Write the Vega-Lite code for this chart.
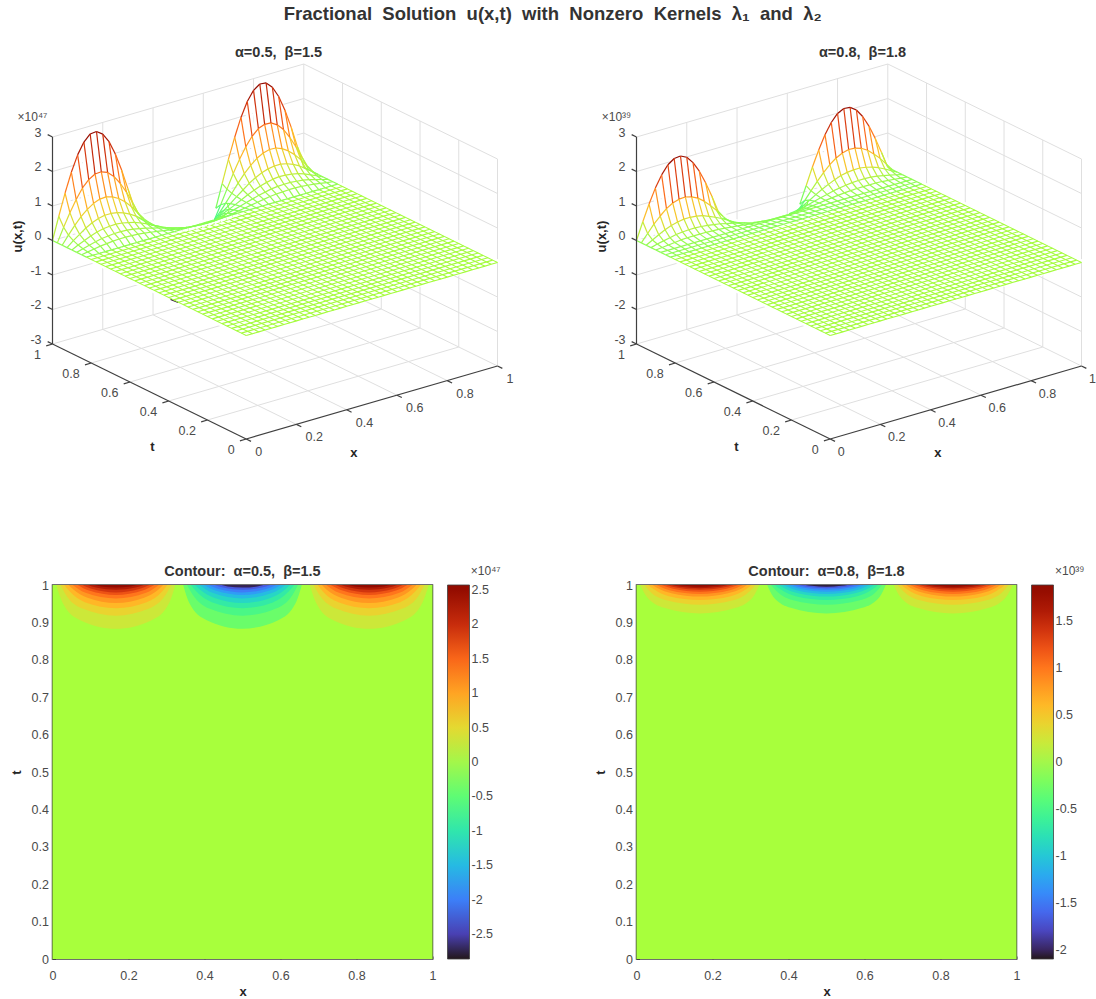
{"$schema":"https://vega.github.io/schema/vega-lite/v6.json","padding":{"left":8.5,"top":5,"right":0,"bottom":0},"background":"white","config":{"font":"Liberation Sans","view":{"stroke":null},"title":{"font":"Liberation Sans","fontSize":14.5,"fontWeight":"bold","color":"#333333","offset":1},"axis":{"labelFont":"Liberation Sans","labelFontSize":12.5,"labelColor":"#4a4a4a","titleFont":"Liberation Sans","titleFontSize":13,"titleFontWeight":"bold","titleColor":"#262626","domain":false,"grid":false,"tickColor":"#404040","tickSize":-3,"labelPadding":7},"legend":{"labelFont":"Liberation Sans","labelFontSize":12.5,"labelColor":"#4a4a4a","labelOffset":5}},
"title":{"text":"Fractional\u00a0\u00a0Solution\u00a0\u00a0u(x,t)\u00a0\u00a0with\u00a0\u00a0Nonzero\u00a0\u00a0Kernels\u00a0\u00a0λ₁\u00a0\u00a0and\u00a0\u00a0λ₂","fontSize":18.5,"color":"#333333","anchor":"middle","offset":21},
"datasets":{
"grid":[{"x":0.2,"t":0,"u":-3,"x2":0.2,"t2":1,"u2":-3},{"x":0.4,"t":0,"u":-3,"x2":0.4,"t2":1,"u2":-3},{"x":0.6,"t":0,"u":-3,"x2":0.6,"t2":1,"u2":-3},{"x":0.8,"t":0,"u":-3,"x2":0.8,"t2":1,"u2":-3},{"x":1,"t":0,"u":-3,"x2":1,"t2":1,"u2":-3},{"x":0,"t":0.2,"u":-3,"x2":1,"t2":0.2,"u2":-3},{"x":0,"t":0.4,"u":-3,"x2":1,"t2":0.4,"u2":-3},{"x":0,"t":0.6,"u":-3,"x2":1,"t2":0.6,"u2":-3},{"x":0,"t":0.8,"u":-3,"x2":1,"t2":0.8,"u2":-3},{"x":0,"t":1,"u":-3,"x2":1,"t2":1,"u2":-3},{"x":0.2,"t":1,"u":-3,"x2":0.2,"t2":1,"u2":3},{"x":0.4,"t":1,"u":-3,"x2":0.4,"t2":1,"u2":3},{"x":0.6,"t":1,"u":-3,"x2":0.6,"t2":1,"u2":3},{"x":0.8,"t":1,"u":-3,"x2":0.8,"t2":1,"u2":3},{"x":1,"t":1,"u":-3,"x2":1,"t2":1,"u2":3},{"x":0,"t":1,"u":-2,"x2":1,"t2":1,"u2":-2},{"x":0,"t":1,"u":-1,"x2":1,"t2":1,"u2":-1},{"x":0,"t":1,"u":0,"x2":1,"t2":1,"u2":0},{"x":0,"t":1,"u":1,"x2":1,"t2":1,"u2":1},{"x":0,"t":1,"u":2,"x2":1,"t2":1,"u2":2},{"x":0,"t":1,"u":3,"x2":1,"t2":1,"u2":3},{"x":1,"t":0,"u":-3,"x2":1,"t2":0,"u2":3},{"x":1,"t":0.2,"u":-3,"x2":1,"t2":0.2,"u2":3},{"x":1,"t":0.4,"u":-3,"x2":1,"t2":0.4,"u2":3},{"x":1,"t":0.6,"u":-3,"x2":1,"t2":0.6,"u2":3},{"x":1,"t":0.8,"u":-3,"x2":1,"t2":0.8,"u2":3},{"x":1,"t":0,"u":-2,"x2":1,"t2":1,"u2":-2},{"x":1,"t":0,"u":-1,"x2":1,"t2":1,"u2":-1},{"x":1,"t":0,"u":0,"x2":1,"t2":1,"u2":0},{"x":1,"t":0,"u":1,"x2":1,"t2":1,"u2":1},{"x":1,"t":0,"u":2,"x2":1,"t2":1,"u2":2},{"x":1,"t":0,"u":3,"x2":1,"t2":1,"u2":3}],
"axes":[{"x":0,"t":0,"u":-3,"x2":1,"t2":0,"u2":-3},{"x":0,"t":0,"u":-3,"x2":0,"t2":1,"u2":-3},{"x":0,"t":1,"u":-3,"x2":0,"t2":1,"u2":3},{"x":0,"t":0,"u":-3,"x2":0,"t2":-0.025,"u2":-3},{"x":0.2,"t":0,"u":-3,"x2":0.2,"t2":-0.025,"u2":-3},{"x":0.4,"t":0,"u":-3,"x2":0.4,"t2":-0.025,"u2":-3},{"x":0.6,"t":0,"u":-3,"x2":0.6,"t2":-0.025,"u2":-3},{"x":0.8,"t":0,"u":-3,"x2":0.8,"t2":-0.025,"u2":-3},{"x":1,"t":0,"u":-3,"x2":1,"t2":-0.025,"u2":-3},{"x":0,"t":0,"u":-3,"x2":-0.025,"t2":0,"u2":-3},{"x":0,"t":0.2,"u":-3,"x2":-0.025,"t2":0.2,"u2":-3},{"x":0,"t":0.4,"u":-3,"x2":-0.025,"t2":0.4,"u2":-3},{"x":0,"t":0.6,"u":-3,"x2":-0.025,"t2":0.6,"u2":-3},{"x":0,"t":0.8,"u":-3,"x2":-0.025,"t2":0.8,"u2":-3},{"x":0,"t":1,"u":-3,"x2":-0.025,"t2":1,"u2":-3},{"x":0,"t":1,"u":-3,"x2":0,"t2":1.025,"u2":-3},{"x":0,"t":1,"u":-2,"x2":0,"t2":1.025,"u2":-2},{"x":0,"t":1,"u":-1,"x2":0,"t2":1.025,"u2":-1},{"x":0,"t":1,"u":0,"x2":0,"t2":1.025,"u2":0},{"x":0,"t":1,"u":1,"x2":0,"t2":1.025,"u2":1},{"x":0,"t":1,"u":2,"x2":0,"t2":1.025,"u2":2},{"x":0,"t":1,"u":3,"x2":0,"t2":1.025,"u2":3}],
"labs":[{"a":"t","x":0,"t":0,"u":-3,"s":"0"},{"a":"t","x":0,"t":0.2,"u":-3,"s":"0.2"},{"a":"t","x":0,"t":0.4,"u":-3,"s":"0.4"},{"a":"t","x":0,"t":0.6,"u":-3,"s":"0.6"},{"a":"t","x":0,"t":0.8,"u":-3,"s":"0.8"},{"a":"t","x":0,"t":1,"u":-3,"s":"1"},{"a":"x","x":0,"t":0,"u":-3,"s":"0"},{"a":"x","x":0.2,"t":0,"u":-3,"s":"0.2"},{"a":"x","x":0.4,"t":0,"u":-3,"s":"0.4"},{"a":"x","x":0.6,"t":0,"u":-3,"s":"0.6"},{"a":"x","x":0.8,"t":0,"u":-3,"s":"0.8"},{"a":"x","x":1,"t":0,"u":-3,"s":"1"},{"a":"u","x":0,"t":1,"u":-3,"s":"-3"},{"a":"u","x":0,"t":1,"u":-2,"s":"-2"},{"a":"u","x":0,"t":1,"u":-1,"s":"-1"},{"a":"u","x":0,"t":1,"u":0,"s":"0"},{"a":"u","x":0,"t":1,"u":1,"s":"1"},{"a":"u","x":0,"t":1,"u":2,"s":"2"},{"a":"u","x":0,"t":1,"u":3,"s":"3"}],
"flat":[{"x":0,"t":0},{"x":0.025,"t":0},{"x":0.05,"t":0},{"x":0.075,"t":0},{"x":0.1,"t":0},{"x":0.125,"t":0},{"x":0.15,"t":0},{"x":0.175,"t":0},{"x":0.2,"t":0},{"x":0.225,"t":0},{"x":0.25,"t":0},{"x":0.275,"t":0},{"x":0.3,"t":0},{"x":0.325,"t":0},{"x":0.35,"t":0},{"x":0.375,"t":0},{"x":0.4,"t":0},{"x":0.425,"t":0},{"x":0.45,"t":0},{"x":0.475,"t":0},{"x":0.5,"t":0},{"x":0.525,"t":0},{"x":0.55,"t":0},{"x":0.575,"t":0},{"x":0.6,"t":0},{"x":0.625,"t":0},{"x":0.65,"t":0},{"x":0.675,"t":0},{"x":0.7,"t":0},{"x":0.725,"t":0},{"x":0.75,"t":0},{"x":0.775,"t":0},{"x":0.8,"t":0},{"x":0.825,"t":0},{"x":0.85,"t":0},{"x":0.875,"t":0},{"x":0.9,"t":0},{"x":0.925,"t":0},{"x":0.95,"t":0},{"x":0.975,"t":0},{"x":1,"t":0},
{"x":0,"t":0.825},{"x":0.025,"t":0.825},{"x":0.05,"t":0.825},{"x":0.075,"t":0.825},{"x":0.1,"t":0.825},{"x":0.125,"t":0.825},{"x":0.15,"t":0.825},{"x":0.175,"t":0.825},{"x":0.2,"t":0.825},{"x":0.225,"t":0.825},{"x":0.25,"t":0.825},{"x":0.275,"t":0.825},{"x":0.3,"t":0.825},{"x":0.325,"t":0.825},{"x":0.35,"t":0.825},{"x":0.375,"t":0.825},{"x":0.4,"t":0.825},{"x":0.425,"t":0.825},{"x":0.45,"t":0.825},{"x":0.475,"t":0.825},{"x":0.5,"t":0.825},{"x":0.525,"t":0.825},{"x":0.55,"t":0.825},{"x":0.575,"t":0.825},{"x":0.6,"t":0.825},{"x":0.625,"t":0.825},{"x":0.65,"t":0.825},{"x":0.675,"t":0.825},{"x":0.7,"t":0.825},{"x":0.725,"t":0.825},{"x":0.75,"t":0.825},{"x":0.775,"t":0.825},{"x":0.8,"t":0.825},{"x":0.825,"t":0.825},{"x":0.85,"t":0.825},{"x":0.875,"t":0.825},{"x":0.9,"t":0.825},{"x":0.925,"t":0.825},{"x":0.95,"t":0.825},{"x":0.975,"t":0.825},{"x":1,"t":0.825},
{"x":0,"t":0.025},{"x":1,"t":0.025},{"x":0,"t":0.05},{"x":1,"t":0.05},{"x":0,"t":0.075},{"x":1,"t":0.075},{"x":0,"t":0.1},{"x":1,"t":0.1},{"x":0,"t":0.125},{"x":1,"t":0.125},{"x":0,"t":0.15},{"x":1,"t":0.15},{"x":0,"t":0.175},{"x":1,"t":0.175},{"x":0,"t":0.2},{"x":1,"t":0.2},{"x":0,"t":0.225},{"x":1,"t":0.225},{"x":0,"t":0.25},{"x":1,"t":0.25},{"x":0,"t":0.275},{"x":1,"t":0.275},{"x":0,"t":0.3},{"x":1,"t":0.3},{"x":0,"t":0.325},{"x":1,"t":0.325},{"x":0,"t":0.35},{"x":1,"t":0.35},{"x":0,"t":0.375},{"x":1,"t":0.375},{"x":0,"t":0.4},{"x":1,"t":0.4},{"x":0,"t":0.425},{"x":1,"t":0.425},{"x":0,"t":0.45},{"x":1,"t":0.45},{"x":0,"t":0.475},{"x":1,"t":0.475},{"x":0,"t":0.5},{"x":1,"t":0.5},{"x":0,"t":0.525},{"x":1,"t":0.525},{"x":0,"t":0.55},{"x":1,"t":0.55},{"x":0,"t":0.575},{"x":1,"t":0.575},{"x":0,"t":0.6},{"x":1,"t":0.6},{"x":0,"t":0.625},{"x":1,"t":0.625},{"x":0,"t":0.65},{"x":1,"t":0.65},{"x":0,"t":0.675},{"x":1,"t":0.675},{"x":0,"t":0.7},{"x":1,"t":0.7},{"x":0,"t":0.725},{"x":1,"t":0.725},{"x":0,"t":0.75},{"x":1,"t":0.75},{"x":0,"t":0.775},{"x":1,"t":0.775},{"x":0,"t":0.8},{"x":1,"t":0.8}],
"m1":[{"x":0,"t":0.825},{"x":0.025,"t":0.825},{"x":0.05,"t":0.825},{"x":0.075,"t":0.825},{"x":0.1,"t":0.825},{"x":0.125,"t":0.825},{"x":0.15,"t":0.825},{"x":0.175,"t":0.825},{"x":0.2,"t":0.825},{"x":0.225,"t":0.825},{"x":0.25,"t":0.825},{"x":0.275,"t":0.825},{"x":0.3,"t":0.825},{"x":0.325,"t":0.825},{"x":0.35,"t":0.825},{"x":0.375,"t":0.825},{"x":0.4,"t":0.825},{"x":0.425,"t":0.825},{"x":0.45,"t":0.825},{"x":0.475,"t":0.825},{"x":0.5,"t":0.825},{"x":0.525,"t":0.825},{"x":0.55,"t":0.825},{"x":0.575,"t":0.825},{"x":0.6,"t":0.825},{"x":0.625,"t":0.825},{"x":0.65,"t":0.825},{"x":0.675,"t":0.825},{"x":0.7,"t":0.825},{"x":0.725,"t":0.825},{"x":0.75,"t":0.825},{"x":0.775,"t":0.825},{"x":0.8,"t":0.825},{"x":0.825,"t":0.825},{"x":0.85,"t":0.825},{"x":0.875,"t":0.825},{"x":0.9,"t":0.825},{"x":0.925,"t":0.825},{"x":0.95,"t":0.825},{"x":0.975,"t":0.825},{"x":1,"t":0.825},
{"x":0,"t":1},{"x":0.025,"t":1,"u":0.65},{"x":0.05,"t":1,"u":1.27},{"x":0.075,"t":1,"u":1.82},{"x":0.1,"t":1,"u":2.27},{"x":0.125,"t":1,"u":2.59},{"x":0.15,"t":1,"u":2.77},{"x":0.175,"t":1,"u":2.79},{"x":0.2,"t":1,"u":2.66},{"x":0.225,"t":1,"u":2.39},{"x":0.25,"t":1,"u":1.98},{"x":0.275,"t":1,"u":1.46},{"x":0.3,"t":1,"u":0.87},{"x":0.325,"t":1,"u":0.22},{"x":0.65,"t":1,"u":-0.44},{"x":0.675,"t":1,"u":0.22},{"x":0.7,"t":1,"u":0.87},{"x":0.725,"t":1,"u":1.46},{"x":0.75,"t":1,"u":1.98},{"x":0.775,"t":1,"u":2.39},{"x":0.8,"t":1,"u":2.66},{"x":0.825,"t":1,"u":2.79},{"x":0.85,"t":1,"u":2.77},{"x":0.875,"t":1,"u":2.59},{"x":0.9,"t":1,"u":2.27},{"x":0.925,"t":1,"u":1.82},{"x":0.95,"t":1,"u":1.27},{"x":0.975,"t":1,"u":0.65},{"x":1,"t":1},
{"x":0,"t":0.975},{"x":0.025,"t":0.975,"u":0.4},{"x":0.05,"t":0.975,"u":0.77},{"x":0.075,"t":0.975,"u":1.1},{"x":0.1,"t":0.975,"u":1.38},{"x":0.125,"t":0.975,"u":1.57},{"x":0.15,"t":0.975,"u":1.68},{"x":0.175,"t":0.975,"u":1.69},{"x":0.2,"t":0.975,"u":1.62},{"x":0.225,"t":0.975,"u":1.45},{"x":0.25,"t":0.975,"u":1.2},{"x":0.275,"t":0.975,"u":0.89},{"x":0.3,"t":0.975,"u":0.53},{"x":0.325,"t":0.975,"u":0.13},{"x":0.625,"t":0.975,"u":-0.65},{"x":0.65,"t":0.975,"u":-0.27},{"x":0.675,"t":0.975,"u":0.13},{"x":0.7,"t":0.975,"u":0.53},{"x":0.725,"t":0.975,"u":0.89},{"x":0.75,"t":0.975,"u":1.2},{"x":0.775,"t":0.975,"u":1.45},{"x":0.8,"t":0.975,"u":1.62},{"x":0.825,"t":0.975,"u":1.69},{"x":0.85,"t":0.975,"u":1.68},{"x":0.875,"t":0.975,"u":1.57},{"x":0.9,"t":0.975,"u":1.38},{"x":0.925,"t":0.975,"u":1.1},{"x":0.95,"t":0.975,"u":0.77},{"x":0.975,"t":0.975,"u":0.4},{"x":1,"t":0.975},
{"x":0,"t":0.95},{"x":0.025,"t":0.95,"u":0.24},{"x":0.05,"t":0.95,"u":0.47},{"x":0.075,"t":0.95,"u":0.67},{"x":0.1,"t":0.95,"u":0.83},{"x":0.125,"t":0.95,"u":0.95},{"x":0.15,"t":0.95,"u":1.02},{"x":0.175,"t":0.95,"u":1.03},{"x":0.2,"t":0.95,"u":0.98},{"x":0.225,"t":0.95,"u":0.88},{"x":0.25,"t":0.95,"u":0.73},{"x":0.275,"t":0.95,"u":0.54},{"x":0.3,"t":0.95,"u":0.32},{"x":0.325,"t":0.95,"u":0.08},{"x":0.625,"t":0.95,"u":-0.39},{"x":0.65,"t":0.95,"u":-0.16},{"x":0.675,"t":0.95,"u":0.08},{"x":0.7,"t":0.95,"u":0.32},{"x":0.725,"t":0.95,"u":0.54},{"x":0.75,"t":0.95,"u":0.73},{"x":0.775,"t":0.95,"u":0.88},{"x":0.8,"t":0.95,"u":0.98},{"x":0.825,"t":0.95,"u":1.03},{"x":0.85,"t":0.95,"u":1.02},{"x":0.875,"t":0.95,"u":0.95},{"x":0.9,"t":0.95,"u":0.83},{"x":0.925,"t":0.95,"u":0.67},{"x":0.95,"t":0.95,"u":0.47},{"x":0.975,"t":0.95,"u":0.24},{"x":1,"t":0.95},
{"x":0,"t":0.925},{"x":0.025,"t":0.925,"u":0.15},{"x":0.05,"t":0.925,"u":0.28},{"x":0.075,"t":0.925,"u":0.41},{"x":0.1,"t":0.925,"u":0.51},{"x":0.125,"t":0.925,"u":0.58},{"x":0.15,"t":0.925,"u":0.62},{"x":0.175,"t":0.925,"u":0.62},{"x":0.2,"t":0.925,"u":0.59},{"x":0.225,"t":0.925,"u":0.53},{"x":0.25,"t":0.925,"u":0.44},{"x":0.275,"t":0.925,"u":0.33},{"x":0.3,"t":0.925,"u":0.19},{"x":0.325,"t":0.925,"u":0.05},{"x":0.35,"t":0.925,"u":-0.1},{"x":0.6,"t":0.925,"u":-0.37},{"x":0.625,"t":0.925,"u":-0.24},{"x":0.65,"t":0.925,"u":-0.1},{"x":0.675,"t":0.925,"u":0.05},{"x":0.7,"t":0.925,"u":0.19},{"x":0.725,"t":0.925,"u":0.33},{"x":0.75,"t":0.925,"u":0.44},{"x":0.775,"t":0.925,"u":0.53},{"x":0.8,"t":0.925,"u":0.59},{"x":0.825,"t":0.925,"u":0.62},{"x":0.85,"t":0.925,"u":0.62},{"x":0.875,"t":0.925,"u":0.58},{"x":0.9,"t":0.925,"u":0.51},{"x":0.925,"t":0.925,"u":0.41},{"x":0.95,"t":0.925,"u":0.28},{"x":0.975,"t":0.925,"u":0.15},{"x":1,"t":0.925},
{"x":0,"t":0.9},{"x":0.025,"t":0.9,"u":0.09},{"x":0.05,"t":0.9,"u":0.17},{"x":0.075,"t":0.9,"u":0.25},{"x":0.1,"t":0.9,"u":0.31},{"x":0.125,"t":0.9,"u":0.35},{"x":0.15,"t":0.9,"u":0.37},{"x":0.175,"t":0.9,"u":0.38},{"x":0.2,"t":0.9,"u":0.36},{"x":0.225,"t":0.9,"u":0.32},{"x":0.25,"t":0.9,"u":0.27},{"x":0.275,"t":0.9,"u":0.2},{"x":0.3,"t":0.9,"u":0.12},{"x":0.325,"t":0.9,"u":0.03},{"x":0.35,"t":0.9,"u":-0.06},{"x":0.575,"t":0.9,"u":-0.29},{"x":0.6,"t":0.9,"u":-0.22},{"x":0.625,"t":0.9,"u":-0.145},{"x":0.65,"t":0.9,"u":-0.06},{"x":0.675,"t":0.9,"u":0.03},{"x":0.7,"t":0.9,"u":0.12},{"x":0.725,"t":0.9,"u":0.2},{"x":0.75,"t":0.9,"u":0.27},{"x":0.775,"t":0.9,"u":0.32},{"x":0.8,"t":0.9,"u":0.36},{"x":0.825,"t":0.9,"u":0.38},{"x":0.85,"t":0.9,"u":0.37},{"x":0.875,"t":0.9,"u":0.35},{"x":0.9,"t":0.9,"u":0.31},{"x":0.925,"t":0.9,"u":0.25},{"x":0.95,"t":0.9,"u":0.17},{"x":0.975,"t":0.9,"u":0.09},{"x":1,"t":0.9},
{"x":0,"t":0.875},{"x":0.025,"t":0.875,"u":0.05},{"x":0.05,"t":0.875,"u":0.1},{"x":0.075,"t":0.875,"u":0.15},{"x":0.1,"t":0.875,"u":0.19},{"x":0.125,"t":0.875,"u":0.21},{"x":0.15,"t":0.875,"u":0.23},{"x":0.175,"t":0.875,"u":0.23},{"x":0.2,"t":0.875,"u":0.22},{"x":0.225,"t":0.875,"u":0.2},{"x":0.25,"t":0.875,"u":0.16},{"x":0.275,"t":0.875,"u":0.12},{"x":0.3,"t":0.875,"u":0.07},{"x":0.325,"t":0.875,"u":0.02},{"x":0.35,"t":0.875,"u":-0.04},{"x":0.375,"t":0.875,"u":-0.09},{"x":0.4,"t":0.875,"u":-0.135,"r":1},{"x":0.55,"t":0.875,"u":-0.205},{"x":0.575,"t":0.875,"u":-0.175},{"x":0.6,"t":0.875,"u":-0.135,"r":1},{"x":0.625,"t":0.875,"u":-0.09},{"x":0.65,"t":0.875,"u":-0.04},{"x":0.675,"t":0.875,"u":0.02},{"x":0.7,"t":0.875,"u":0.07},{"x":0.725,"t":0.875,"u":0.12},{"x":0.75,"t":0.875,"u":0.16},{"x":0.775,"t":0.875,"u":0.2},{"x":0.8,"t":0.875,"u":0.22},{"x":0.825,"t":0.875,"u":0.23},{"x":0.85,"t":0.875,"u":0.23},{"x":0.875,"t":0.875,"u":0.21},{"x":0.9,"t":0.875,"u":0.19},{"x":0.925,"t":0.875,"u":0.15},{"x":0.95,"t":0.875,"u":0.1},{"x":0.975,"t":0.875,"u":0.05},{"x":1,"t":0.875},
{"x":0,"t":0.85},{"x":0.025,"t":0.85,"u":0.03},{"x":0.05,"t":0.85,"u":0.06},{"x":0.075,"t":0.85,"u":0.09},{"x":0.1,"t":0.85,"u":0.11},{"x":0.125,"t":0.85,"u":0.13},{"x":0.15,"t":0.85,"u":0.14},{"x":0.175,"t":0.85,"u":0.14},{"x":0.2,"t":0.85,"u":0.13},{"x":0.225,"t":0.85,"u":0.12},{"x":0.25,"t":0.85,"u":0.1},{"x":0.275,"t":0.85,"u":0.07},{"x":0.3,"t":0.85,"u":0.04},{"x":0.325,"t":0.85,"u":0.01},{"x":0.35,"t":0.85,"u":-0.02},{"x":0.375,"t":0.85,"u":-0.05},{"x":0.4,"t":0.85,"u":-0.08},{"x":0.425,"t":0.85,"u":-0.11},{"x":0.45,"t":0.85,"u":-0.125},{"x":0.475,"t":0.85,"u":-0.136,"r":1},{"x":0.5,"t":0.85,"u":-0.14,"r":1},{"x":0.525,"t":0.85,"u":-0.136,"r":1},{"x":0.55,"t":0.85,"u":-0.125},{"x":0.575,"t":0.85,"u":-0.11},{"x":0.6,"t":0.85,"u":-0.08},{"x":0.625,"t":0.85,"u":-0.05},{"x":0.65,"t":0.85,"u":-0.02},{"x":0.675,"t":0.85,"u":0.01},{"x":0.7,"t":0.85,"u":0.04},{"x":0.725,"t":0.85,"u":0.07},{"x":0.75,"t":0.85,"u":0.1},{"x":0.775,"t":0.85,"u":0.12},{"x":0.8,"t":0.85,"u":0.13},{"x":0.825,"t":0.85,"u":0.14},{"x":0.85,"t":0.85,"u":0.14},{"x":0.875,"t":0.85,"u":0.13},{"x":0.9,"t":0.85,"u":0.11},{"x":0.925,"t":0.85,"u":0.09},{"x":0.95,"t":0.85,"u":0.06},{"x":0.975,"t":0.85,"u":0.03},{"x":1,"t":0.85},
{"x":0.335,"t":0.99,"u":-0.02,"r":1},{"x":0.35,"t":0.942,"u":-0.138,"r":1},{"x":0.375,"t":0.8975,"u":-0.138,"r":1},{"x":0.425,"t":0.863,"u":-0.138,"r":1},{"x":0.45,"t":0.855,"u":-0.138,"r":1},{"x":0.55,"t":0.855,"u":-0.138,"r":1},{"x":0.575,"t":0.863,"u":-0.138,"r":1},{"x":0.625,"t":0.8975,"u":-0.138,"r":1},{"x":0.65,"t":0.942,"u":-0.138,"r":1}],
"m2":[{"x":0,"t":0.825},{"x":0.025,"t":0.825},{"x":0.05,"t":0.825},{"x":0.075,"t":0.825},{"x":0.1,"t":0.825},{"x":0.125,"t":0.825},{"x":0.15,"t":0.825},{"x":0.175,"t":0.825},{"x":0.2,"t":0.825},{"x":0.225,"t":0.825},{"x":0.25,"t":0.825},{"x":0.275,"t":0.825},{"x":0.3,"t":0.825},{"x":0.325,"t":0.825},{"x":0.35,"t":0.825},{"x":0.375,"t":0.825},{"x":0.4,"t":0.825},{"x":0.425,"t":0.825},{"x":0.45,"t":0.825},{"x":0.475,"t":0.825},{"x":0.5,"t":0.825},{"x":0.525,"t":0.825},{"x":0.55,"t":0.825},{"x":0.575,"t":0.825},{"x":0.6,"t":0.825},{"x":0.625,"t":0.825},{"x":0.65,"t":0.825},{"x":0.675,"t":0.825},{"x":0.7,"t":0.825},{"x":0.725,"t":0.825},{"x":0.75,"t":0.825},{"x":0.775,"t":0.825},{"x":0.8,"t":0.825},{"x":0.825,"t":0.825},{"x":0.85,"t":0.825},{"x":0.875,"t":0.825},{"x":0.9,"t":0.825},{"x":0.925,"t":0.825},{"x":0.95,"t":0.825},{"x":0.975,"t":0.825},{"x":1,"t":0.825},
{"x":0,"t":0.85},{"x":1,"t":0.85},{"x":0,"t":0.875},{"x":1,"t":0.875},
{"x":0,"t":1},{"x":0.025,"t":1,"u":0.49},{"x":0.05,"t":1,"u":0.95},{"x":0.075,"t":1,"u":1.36},{"x":0.1,"t":1,"u":1.69},{"x":0.125,"t":1,"u":1.93},{"x":0.15,"t":1,"u":2.06},{"x":0.175,"t":1,"u":2.08},{"x":0.2,"t":1,"u":1.99},{"x":0.225,"t":1,"u":1.78},{"x":0.25,"t":1,"u":1.48},{"x":0.275,"t":1,"u":1.09},{"x":0.3,"t":1,"u":0.65},{"x":0.325,"t":1,"u":0.16},{"x":0.65,"t":1,"u":-0.326},{"x":0.675,"t":1,"u":0.16},{"x":0.7,"t":1,"u":0.65},{"x":0.725,"t":1,"u":1.09},{"x":0.75,"t":1,"u":1.48},{"x":0.775,"t":1,"u":1.78},{"x":0.8,"t":1,"u":1.99},{"x":0.825,"t":1,"u":2.08},{"x":0.85,"t":1,"u":2.06},{"x":0.875,"t":1,"u":1.93},{"x":0.9,"t":1,"u":1.69},{"x":0.925,"t":1,"u":1.36},{"x":0.95,"t":1,"u":0.95},{"x":0.975,"t":1,"u":0.49},{"x":1,"t":1},
{"x":0,"t":0.975},{"x":0.025,"t":0.975,"u":0.22},{"x":0.05,"t":0.975,"u":0.44},{"x":0.075,"t":0.975,"u":0.62},{"x":0.1,"t":0.975,"u":0.78},{"x":0.125,"t":0.975,"u":0.89},{"x":0.15,"t":0.975,"u":0.95},{"x":0.175,"t":0.975,"u":0.96},{"x":0.2,"t":0.975,"u":0.91},{"x":0.225,"t":0.975,"u":0.82},{"x":0.25,"t":0.975,"u":0.68},{"x":0.275,"t":0.975,"u":0.5},{"x":0.3,"t":0.975,"u":0.3},{"x":0.325,"t":0.975,"u":0.08},{"x":0.625,"t":0.975,"u":-0.37},{"x":0.65,"t":0.975,"u":-0.15},{"x":0.675,"t":0.975,"u":0.08},{"x":0.7,"t":0.975,"u":0.3},{"x":0.725,"t":0.975,"u":0.5},{"x":0.75,"t":0.975,"u":0.68},{"x":0.775,"t":0.975,"u":0.82},{"x":0.8,"t":0.975,"u":0.91},{"x":0.825,"t":0.975,"u":0.96},{"x":0.85,"t":0.975,"u":0.95},{"x":0.875,"t":0.975,"u":0.89},{"x":0.9,"t":0.975,"u":0.78},{"x":0.925,"t":0.975,"u":0.62},{"x":0.95,"t":0.975,"u":0.44},{"x":0.975,"t":0.975,"u":0.22},{"x":1,"t":0.975},
{"x":0,"t":0.95},{"x":0.025,"t":0.95,"u":0.1},{"x":0.05,"t":0.95,"u":0.2},{"x":0.075,"t":0.95,"u":0.29},{"x":0.1,"t":0.95,"u":0.36},{"x":0.125,"t":0.95,"u":0.41},{"x":0.15,"t":0.95,"u":0.44},{"x":0.175,"t":0.95,"u":0.44},{"x":0.2,"t":0.95,"u":0.42},{"x":0.225,"t":0.95,"u":0.38},{"x":0.25,"t":0.95,"u":0.31},{"x":0.275,"t":0.95,"u":0.23},{"x":0.3,"t":0.95,"u":0.14},{"x":0.325,"t":0.95,"u":0.04},{"x":0.35,"t":0.95,"u":-0.07},{"x":0.6,"t":0.95,"u":-0.26},{"x":0.625,"t":0.95,"u":-0.17},{"x":0.65,"t":0.95,"u":-0.07},{"x":0.675,"t":0.95,"u":0.04},{"x":0.7,"t":0.95,"u":0.14},{"x":0.725,"t":0.95,"u":0.23},{"x":0.75,"t":0.95,"u":0.31},{"x":0.775,"t":0.95,"u":0.38},{"x":0.8,"t":0.95,"u":0.42},{"x":0.825,"t":0.95,"u":0.44},{"x":0.85,"t":0.95,"u":0.44},{"x":0.875,"t":0.95,"u":0.41},{"x":0.9,"t":0.95,"u":0.36},{"x":0.925,"t":0.95,"u":0.29},{"x":0.95,"t":0.95,"u":0.2},{"x":0.975,"t":0.95,"u":0.1},{"x":1,"t":0.95},
{"x":0,"t":0.925},{"x":0.025,"t":0.925,"u":0.05},{"x":0.05,"t":0.925,"u":0.09},{"x":0.075,"t":0.925,"u":0.13},{"x":0.1,"t":0.925,"u":0.17},{"x":0.125,"t":0.925,"u":0.19},{"x":0.15,"t":0.925,"u":0.2},{"x":0.175,"t":0.925,"u":0.2},{"x":0.2,"t":0.925,"u":0.19},{"x":0.225,"t":0.925,"u":0.17},{"x":0.25,"t":0.925,"u":0.14},{"x":0.275,"t":0.925,"u":0.11},{"x":0.3,"t":0.925,"u":0.06},{"x":0.325,"t":0.925,"u":0.02},{"x":0.35,"t":0.925,"u":-0.03},{"x":0.375,"t":0.925,"u":-0.078},{"x":0.55,"t":0.925,"u":-0.18},{"x":0.575,"t":0.925,"u":-0.155},{"x":0.6,"t":0.925,"u":-0.12},{"x":0.625,"t":0.925,"u":-0.078},{"x":0.65,"t":0.925,"u":-0.03},{"x":0.675,"t":0.925,"u":0.02},{"x":0.7,"t":0.925,"u":0.06},{"x":0.725,"t":0.925,"u":0.11},{"x":0.75,"t":0.925,"u":0.14},{"x":0.775,"t":0.925,"u":0.17},{"x":0.8,"t":0.925,"u":0.19},{"x":0.825,"t":0.925,"u":0.2},{"x":0.85,"t":0.925,"u":0.2},{"x":0.875,"t":0.925,"u":0.19},{"x":0.9,"t":0.925,"u":0.17},{"x":0.925,"t":0.925,"u":0.13},{"x":0.95,"t":0.925,"u":0.09},{"x":0.975,"t":0.925,"u":0.05},{"x":1,"t":0.925},
{"x":0,"t":0.9},{"x":0.025,"t":0.9,"u":0.02},{"x":0.05,"t":0.9,"u":0.04},{"x":0.075,"t":0.9,"u":0.06},{"x":0.1,"t":0.9,"u":0.08},{"x":0.125,"t":0.9,"u":0.09},{"x":0.15,"t":0.9,"u":0.09},{"x":0.175,"t":0.9,"u":0.09},{"x":0.2,"t":0.9,"u":0.09},{"x":0.225,"t":0.9,"u":0.08},{"x":0.25,"t":0.9,"u":0.07},{"x":0.275,"t":0.9,"u":0.05},{"x":0.3,"t":0.9,"u":0.03},{"x":0.325,"t":0.9,"u":0.01},{"x":0.35,"t":0.9,"u":-0.015},{"x":0.375,"t":0.9,"u":-0.036},{"x":0.4,"t":0.9,"u":-0.055},{"x":0.425,"t":0.9,"u":-0.07},{"x":0.45,"t":0.9,"u":-0.084},{"x":0.475,"t":0.9,"u":-0.09,"r":1},{"x":0.5,"t":0.9,"u":-0.09,"r":1},{"x":0.525,"t":0.9,"u":-0.09,"r":1},{"x":0.55,"t":0.9,"u":-0.084},{"x":0.575,"t":0.9,"u":-0.07},{"x":0.6,"t":0.9,"u":-0.055},{"x":0.625,"t":0.9,"u":-0.036},{"x":0.65,"t":0.9,"u":-0.015},{"x":0.675,"t":0.9,"u":0.01},{"x":0.7,"t":0.9,"u":0.03},{"x":0.725,"t":0.9,"u":0.05},{"x":0.75,"t":0.9,"u":0.07},{"x":0.775,"t":0.9,"u":0.08},{"x":0.8,"t":0.9,"u":0.09},{"x":0.825,"t":0.9,"u":0.09},{"x":0.85,"t":0.9,"u":0.09},{"x":0.875,"t":0.9,"u":0.09},{"x":0.9,"t":0.9,"u":0.08},{"x":0.925,"t":0.9,"u":0.06},{"x":0.95,"t":0.9,"u":0.04},{"x":0.975,"t":0.9,"u":0.02},{"x":1,"t":0.9},
{"x":0.335,"t":0.99,"u":-0.02,"r":1},{"x":0.35,"t":0.958,"u":-0.089,"r":1},{"x":0.375,"t":0.929,"u":-0.089,"r":1},{"x":0.4,"t":0.915,"u":-0.089,"r":1},{"x":0.425,"t":0.907,"u":-0.089,"r":1},{"x":0.45,"t":0.902,"u":-0.089,"r":1},{"x":0.55,"t":0.902,"u":-0.089,"r":1},{"x":0.575,"t":0.907,"u":-0.089,"r":1},{"x":0.6,"t":0.915,"u":-0.089,"r":1},{"x":0.625,"t":0.929,"u":-0.089,"r":1},{"x":0.65,"t":0.958,"u":-0.089,"r":1}],
"c1":[{"i":11,"x":0.01,"t":1,"v":0.3},{"i":11,"x":0.026,"t":0.954,"v":0.3},{"i":11,"x":0.073,"t":0.906,"v":0.3},{"i":11,"x":0.167,"t":0.883,"v":0.3},{"i":11,"x":0.261,"t":0.906,"v":0.3},{"i":11,"x":0.308,"t":0.954,"v":0.3},{"i":11,"x":0.323,"t":1,"v":0.3},
{"i":12,"x":0.021,"t":1,"v":0.57},{"i":12,"x":0.035,"t":0.974,"v":0.57},{"i":12,"x":0.079,"t":0.937,"v":0.57},{"i":12,"x":0.167,"t":0.918,"v":0.57},{"i":12,"x":0.254,"t":0.937,"v":0.57},{"i":12,"x":0.298,"t":0.974,"v":0.57},{"i":12,"x":0.313,"t":1,"v":0.57},
{"i":13,"x":0.031,"t":1,"v":0.84},{"i":13,"x":0.045,"t":0.983,"v":0.84},{"i":13,"x":0.085,"t":0.954,"v":0.84},{"i":13,"x":0.167,"t":0.938,"v":0.84},{"i":13,"x":0.248,"t":0.954,"v":0.84},{"i":13,"x":0.289,"t":0.983,"v":0.84},{"i":13,"x":0.302,"t":1,"v":0.84},
{"i":14,"x":0.042,"t":1,"v":1.11},{"i":14,"x":0.055,"t":0.988,"v":1.11},{"i":14,"x":0.092,"t":0.966,"v":1.11},{"i":14,"x":0.167,"t":0.952,"v":1.11},{"i":14,"x":0.241,"t":0.966,"v":1.11},{"i":14,"x":0.279,"t":0.988,"v":1.11},{"i":14,"x":0.291,"t":1,"v":1.11},
{"i":15,"x":0.053,"t":1,"v":1.38},{"i":15,"x":0.087,"t":0.979,"v":1.38},{"i":15,"x":0.167,"t":0.964,"v":1.38},{"i":15,"x":0.246,"t":0.979,"v":1.38},{"i":15,"x":0.28,"t":1,"v":1.38},
{"i":16,"x":0.066,"t":1,"v":1.65},{"i":16,"x":0.096,"t":0.985,"v":1.65},{"i":16,"x":0.167,"t":0.973,"v":1.65},{"i":16,"x":0.237,"t":0.985,"v":1.65},{"i":16,"x":0.268,"t":1,"v":1.65},
{"i":17,"x":0.079,"t":1,"v":1.92},{"i":17,"x":0.105,"t":0.989,"v":1.92},{"i":17,"x":0.167,"t":0.98,"v":1.92},{"i":17,"x":0.228,"t":0.989,"v":1.92},{"i":17,"x":0.255,"t":1,"v":1.92},
{"i":18,"x":0.093,"t":1,"v":2.19},{"i":18,"x":0.115,"t":0.993,"v":2.19},{"i":18,"x":0.167,"t":0.987,"v":2.19},{"i":18,"x":0.218,"t":0.993,"v":2.19},{"i":18,"x":0.24,"t":1,"v":2.19},
{"i":19,"x":0.111,"t":1,"v":2.55},{"i":19,"x":0.128,"t":0.996,"v":2.55},{"i":19,"x":0.167,"t":0.993,"v":2.55},{"i":19,"x":0.205,"t":0.996,"v":2.55},{"i":19,"x":0.222,"t":1,"v":2.55},
{"i":21,"x":0.344,"t":1,"v":-0.405},{"i":21,"x":0.359,"t":0.954,"v":-0.405},{"i":21,"x":0.406,"t":0.906,"v":-0.405},{"i":21,"x":0.5,"t":0.883,"v":-0.405},{"i":21,"x":0.594,"t":0.906,"v":-0.405},{"i":21,"x":0.641,"t":0.954,"v":-0.405},{"i":21,"x":0.656,"t":1,"v":-0.405},
{"i":22,"x":0.354,"t":1,"v":-0.675},{"i":22,"x":0.369,"t":0.974,"v":-0.675},{"i":22,"x":0.412,"t":0.937,"v":-0.675},{"i":22,"x":0.5,"t":0.918,"v":-0.675},{"i":22,"x":0.588,"t":0.937,"v":-0.675},{"i":22,"x":0.632,"t":0.974,"v":-0.675},{"i":22,"x":0.646,"t":1,"v":-0.675},
{"i":23,"x":0.364,"t":1,"v":-0.945},{"i":23,"x":0.378,"t":0.983,"v":-0.945},{"i":23,"x":0.419,"t":0.954,"v":-0.945},{"i":23,"x":0.5,"t":0.938,"v":-0.945},{"i":23,"x":0.581,"t":0.954,"v":-0.945},{"i":23,"x":0.622,"t":0.983,"v":-0.945},{"i":23,"x":0.636,"t":1,"v":-0.945},
{"i":24,"x":0.375,"t":1,"v":-1.215},{"i":24,"x":0.388,"t":0.988,"v":-1.215},{"i":24,"x":0.425,"t":0.966,"v":-1.215},{"i":24,"x":0.5,"t":0.952,"v":-1.215},{"i":24,"x":0.575,"t":0.966,"v":-1.215},{"i":24,"x":0.612,"t":0.988,"v":-1.215},{"i":24,"x":0.625,"t":1,"v":-1.215},
{"i":25,"x":0.387,"t":1,"v":-1.485},{"i":25,"x":0.421,"t":0.979,"v":-1.485},{"i":25,"x":0.5,"t":0.964,"v":-1.485},{"i":25,"x":0.579,"t":0.979,"v":-1.485},{"i":25,"x":0.613,"t":1,"v":-1.485},
{"i":26,"x":0.399,"t":1,"v":-1.755},{"i":26,"x":0.429,"t":0.985,"v":-1.755},{"i":26,"x":0.5,"t":0.973,"v":-1.755},{"i":26,"x":0.571,"t":0.985,"v":-1.755},{"i":26,"x":0.601,"t":1,"v":-1.755},
{"i":27,"x":0.412,"t":1,"v":-2.025},{"i":27,"x":0.438,"t":0.989,"v":-2.025},{"i":27,"x":0.5,"t":0.98,"v":-2.025},{"i":27,"x":0.562,"t":0.989,"v":-2.025},{"i":27,"x":0.588,"t":1,"v":-2.025},
{"i":28,"x":0.427,"t":1,"v":-2.295},{"i":28,"x":0.449,"t":0.993,"v":-2.295},{"i":28,"x":0.5,"t":0.987,"v":-2.295},{"i":28,"x":0.551,"t":0.993,"v":-2.295},{"i":28,"x":0.573,"t":1,"v":-2.295},
{"i":29,"x":0.445,"t":1,"v":-2.75},{"i":29,"x":0.461,"t":0.996,"v":-2.75},{"i":29,"x":0.5,"t":0.993,"v":-2.75},{"i":29,"x":0.539,"t":0.996,"v":-2.75},{"i":29,"x":0.555,"t":1,"v":-2.75},
{"i":31,"x":0.677,"t":1,"v":0.3},{"i":31,"x":0.693,"t":0.954,"v":0.3},{"i":31,"x":0.739,"t":0.906,"v":0.3},{"i":31,"x":0.833,"t":0.883,"v":0.3},{"i":31,"x":0.927,"t":0.906,"v":0.3},{"i":31,"x":0.974,"t":0.954,"v":0.3},{"i":31,"x":0.99,"t":1,"v":0.3},
{"i":32,"x":0.687,"t":1,"v":0.57},{"i":32,"x":0.702,"t":0.974,"v":0.57},{"i":32,"x":0.746,"t":0.937,"v":0.57},{"i":32,"x":0.833,"t":0.918,"v":0.57},{"i":32,"x":0.921,"t":0.937,"v":0.57},{"i":32,"x":0.965,"t":0.974,"v":0.57},{"i":32,"x":0.979,"t":1,"v":0.57},
{"i":33,"x":0.698,"t":1,"v":0.84},{"i":33,"x":0.711,"t":0.983,"v":0.84},{"i":33,"x":0.752,"t":0.954,"v":0.84},{"i":33,"x":0.833,"t":0.938,"v":0.84},{"i":33,"x":0.915,"t":0.954,"v":0.84},{"i":33,"x":0.955,"t":0.983,"v":0.84},{"i":33,"x":0.969,"t":1,"v":0.84},
{"i":34,"x":0.709,"t":1,"v":1.11},{"i":34,"x":0.721,"t":0.988,"v":1.11},{"i":34,"x":0.759,"t":0.966,"v":1.11},{"i":34,"x":0.833,"t":0.952,"v":1.11},{"i":34,"x":0.908,"t":0.966,"v":1.11},{"i":34,"x":0.945,"t":0.988,"v":1.11},{"i":34,"x":0.958,"t":1,"v":1.11},
{"i":35,"x":0.72,"t":1,"v":1.38},{"i":35,"x":0.754,"t":0.979,"v":1.38},{"i":35,"x":0.833,"t":0.964,"v":1.38},{"i":35,"x":0.913,"t":0.979,"v":1.38},{"i":35,"x":0.947,"t":1,"v":1.38},
{"i":36,"x":0.732,"t":1,"v":1.65},{"i":36,"x":0.763,"t":0.985,"v":1.65},{"i":36,"x":0.833,"t":0.973,"v":1.65},{"i":36,"x":0.904,"t":0.985,"v":1.65},{"i":36,"x":0.934,"t":1,"v":1.65},
{"i":37,"x":0.745,"t":1,"v":1.92},{"i":37,"x":0.772,"t":0.989,"v":1.92},{"i":37,"x":0.833,"t":0.98,"v":1.92},{"i":37,"x":0.895,"t":0.989,"v":1.92},{"i":37,"x":0.921,"t":1,"v":1.92},
{"i":38,"x":0.76,"t":1,"v":2.19},{"i":38,"x":0.782,"t":0.993,"v":2.19},{"i":38,"x":0.833,"t":0.987,"v":2.19},{"i":38,"x":0.885,"t":0.993,"v":2.19},{"i":38,"x":0.907,"t":1,"v":2.19},
{"i":39,"x":0.778,"t":1,"v":2.55},{"i":39,"x":0.795,"t":0.996,"v":2.55},{"i":39,"x":0.833,"t":0.993,"v":2.55},{"i":39,"x":0.872,"t":0.996,"v":2.55},{"i":39,"x":0.889,"t":1,"v":2.55}],
"c2":[{"i":11,"x":0.01,"t":1,"v":0.22},{"i":11,"x":0.026,"t":0.97,"v":0.22},{"i":11,"x":0.073,"t":0.939,"v":0.22},{"i":11,"x":0.167,"t":0.924,"v":0.22},{"i":11,"x":0.261,"t":0.939,"v":0.22},{"i":11,"x":0.308,"t":0.97,"v":0.22},{"i":11,"x":0.323,"t":1,"v":0.22},
{"i":12,"x":0.021,"t":1,"v":0.42},{"i":12,"x":0.035,"t":0.983,"v":0.42},{"i":12,"x":0.079,"t":0.959,"v":0.42},{"i":12,"x":0.167,"t":0.947,"v":0.42},{"i":12,"x":0.254,"t":0.959,"v":0.42},{"i":12,"x":0.298,"t":0.983,"v":0.42},{"i":12,"x":0.313,"t":1,"v":0.42},
{"i":13,"x":0.031,"t":1,"v":0.62},{"i":13,"x":0.045,"t":0.989,"v":0.62},{"i":13,"x":0.085,"t":0.97,"v":0.62},{"i":13,"x":0.167,"t":0.96,"v":0.62},{"i":13,"x":0.248,"t":0.97,"v":0.62},{"i":13,"x":0.289,"t":0.989,"v":0.62},{"i":13,"x":0.302,"t":1,"v":0.62},
{"i":14,"x":0.042,"t":1,"v":0.82},{"i":14,"x":0.055,"t":0.992,"v":0.82},{"i":14,"x":0.092,"t":0.978,"v":0.82},{"i":14,"x":0.167,"t":0.969,"v":0.82},{"i":14,"x":0.241,"t":0.978,"v":0.82},{"i":14,"x":0.279,"t":0.992,"v":0.82},{"i":14,"x":0.291,"t":1,"v":0.82},
{"i":15,"x":0.053,"t":1,"v":1.02},{"i":15,"x":0.087,"t":0.986,"v":1.02},{"i":15,"x":0.167,"t":0.976,"v":1.02},{"i":15,"x":0.246,"t":0.986,"v":1.02},{"i":15,"x":0.28,"t":1,"v":1.02},
{"i":16,"x":0.066,"t":1,"v":1.22},{"i":16,"x":0.096,"t":0.99,"v":1.22},{"i":16,"x":0.167,"t":0.982,"v":1.22},{"i":16,"x":0.237,"t":0.99,"v":1.22},{"i":16,"x":0.268,"t":1,"v":1.22},
{"i":17,"x":0.079,"t":1,"v":1.42},{"i":17,"x":0.105,"t":0.993,"v":1.42},{"i":17,"x":0.167,"t":0.987,"v":1.42},{"i":17,"x":0.228,"t":0.993,"v":1.42},{"i":17,"x":0.255,"t":1,"v":1.42},
{"i":18,"x":0.093,"t":1,"v":1.62},{"i":18,"x":0.115,"t":0.995,"v":1.62},{"i":18,"x":0.167,"t":0.991,"v":1.62},{"i":18,"x":0.218,"t":0.995,"v":1.62},{"i":18,"x":0.24,"t":1,"v":1.62},
{"i":19,"x":0.111,"t":1,"v":1.88},{"i":19,"x":0.128,"t":0.998,"v":1.88},{"i":19,"x":0.167,"t":0.995,"v":1.88},{"i":19,"x":0.205,"t":0.998,"v":1.88},{"i":19,"x":0.222,"t":1,"v":1.88},
{"i":21,"x":0.344,"t":1,"v":-0.3},{"i":21,"x":0.359,"t":0.97,"v":-0.3},{"i":21,"x":0.406,"t":0.939,"v":-0.3},{"i":21,"x":0.5,"t":0.924,"v":-0.3},{"i":21,"x":0.594,"t":0.939,"v":-0.3},{"i":21,"x":0.641,"t":0.97,"v":-0.3},{"i":21,"x":0.656,"t":1,"v":-0.3},
{"i":22,"x":0.354,"t":1,"v":-0.5},{"i":22,"x":0.369,"t":0.983,"v":-0.5},{"i":22,"x":0.412,"t":0.959,"v":-0.5},{"i":22,"x":0.5,"t":0.947,"v":-0.5},{"i":22,"x":0.588,"t":0.959,"v":-0.5},{"i":22,"x":0.632,"t":0.983,"v":-0.5},{"i":22,"x":0.646,"t":1,"v":-0.5},
{"i":23,"x":0.364,"t":1,"v":-0.7},{"i":23,"x":0.378,"t":0.989,"v":-0.7},{"i":23,"x":0.419,"t":0.97,"v":-0.7},{"i":23,"x":0.5,"t":0.96,"v":-0.7},{"i":23,"x":0.581,"t":0.97,"v":-0.7},{"i":23,"x":0.622,"t":0.989,"v":-0.7},{"i":23,"x":0.636,"t":1,"v":-0.7},
{"i":24,"x":0.375,"t":1,"v":-0.9},{"i":24,"x":0.388,"t":0.992,"v":-0.9},{"i":24,"x":0.425,"t":0.978,"v":-0.9},{"i":24,"x":0.5,"t":0.969,"v":-0.9},{"i":24,"x":0.575,"t":0.978,"v":-0.9},{"i":24,"x":0.612,"t":0.992,"v":-0.9},{"i":24,"x":0.625,"t":1,"v":-0.9},
{"i":25,"x":0.387,"t":1,"v":-1.1},{"i":25,"x":0.421,"t":0.986,"v":-1.1},{"i":25,"x":0.5,"t":0.976,"v":-1.1},{"i":25,"x":0.579,"t":0.986,"v":-1.1},{"i":25,"x":0.613,"t":1,"v":-1.1},
{"i":26,"x":0.399,"t":1,"v":-1.3},{"i":26,"x":0.429,"t":0.99,"v":-1.3},{"i":26,"x":0.5,"t":0.982,"v":-1.3},{"i":26,"x":0.571,"t":0.99,"v":-1.3},{"i":26,"x":0.601,"t":1,"v":-1.3},
{"i":27,"x":0.412,"t":1,"v":-1.5},{"i":27,"x":0.438,"t":0.993,"v":-1.5},{"i":27,"x":0.5,"t":0.987,"v":-1.5},{"i":27,"x":0.562,"t":0.993,"v":-1.5},{"i":27,"x":0.588,"t":1,"v":-1.5},
{"i":28,"x":0.427,"t":1,"v":-1.7},{"i":28,"x":0.449,"t":0.995,"v":-1.7},{"i":28,"x":0.5,"t":0.991,"v":-1.7},{"i":28,"x":0.551,"t":0.995,"v":-1.7},{"i":28,"x":0.573,"t":1,"v":-1.7},
{"i":29,"x":0.445,"t":1,"v":-2.05},{"i":29,"x":0.461,"t":0.998,"v":-2.05},{"i":29,"x":0.5,"t":0.995,"v":-2.05},{"i":29,"x":0.539,"t":0.998,"v":-2.05},{"i":29,"x":0.555,"t":1,"v":-2.05},
{"i":31,"x":0.677,"t":1,"v":0.22},{"i":31,"x":0.693,"t":0.97,"v":0.22},{"i":31,"x":0.739,"t":0.939,"v":0.22},{"i":31,"x":0.833,"t":0.924,"v":0.22},{"i":31,"x":0.927,"t":0.939,"v":0.22},{"i":31,"x":0.974,"t":0.97,"v":0.22},{"i":31,"x":0.99,"t":1,"v":0.22},
{"i":32,"x":0.687,"t":1,"v":0.42},{"i":32,"x":0.702,"t":0.983,"v":0.42},{"i":32,"x":0.746,"t":0.959,"v":0.42},{"i":32,"x":0.833,"t":0.947,"v":0.42},{"i":32,"x":0.921,"t":0.959,"v":0.42},{"i":32,"x":0.965,"t":0.983,"v":0.42},{"i":32,"x":0.979,"t":1,"v":0.42},
{"i":33,"x":0.698,"t":1,"v":0.62},{"i":33,"x":0.711,"t":0.989,"v":0.62},{"i":33,"x":0.752,"t":0.97,"v":0.62},{"i":33,"x":0.833,"t":0.96,"v":0.62},{"i":33,"x":0.915,"t":0.97,"v":0.62},{"i":33,"x":0.955,"t":0.989,"v":0.62},{"i":33,"x":0.969,"t":1,"v":0.62},
{"i":34,"x":0.709,"t":1,"v":0.82},{"i":34,"x":0.721,"t":0.992,"v":0.82},{"i":34,"x":0.759,"t":0.978,"v":0.82},{"i":34,"x":0.833,"t":0.969,"v":0.82},{"i":34,"x":0.908,"t":0.978,"v":0.82},{"i":34,"x":0.945,"t":0.992,"v":0.82},{"i":34,"x":0.958,"t":1,"v":0.82},
{"i":35,"x":0.72,"t":1,"v":1.02},{"i":35,"x":0.754,"t":0.986,"v":1.02},{"i":35,"x":0.833,"t":0.976,"v":1.02},{"i":35,"x":0.913,"t":0.986,"v":1.02},{"i":35,"x":0.947,"t":1,"v":1.02},
{"i":36,"x":0.732,"t":1,"v":1.22},{"i":36,"x":0.763,"t":0.99,"v":1.22},{"i":36,"x":0.833,"t":0.982,"v":1.22},{"i":36,"x":0.904,"t":0.99,"v":1.22},{"i":36,"x":0.934,"t":1,"v":1.22},
{"i":37,"x":0.745,"t":1,"v":1.42},{"i":37,"x":0.772,"t":0.993,"v":1.42},{"i":37,"x":0.833,"t":0.987,"v":1.42},{"i":37,"x":0.895,"t":0.993,"v":1.42},{"i":37,"x":0.921,"t":1,"v":1.42},
{"i":38,"x":0.76,"t":1,"v":1.62},{"i":38,"x":0.782,"t":0.995,"v":1.62},{"i":38,"x":0.833,"t":0.991,"v":1.62},{"i":38,"x":0.885,"t":0.995,"v":1.62},{"i":38,"x":0.907,"t":1,"v":1.62},
{"i":39,"x":0.778,"t":1,"v":1.88},{"i":39,"x":0.795,"t":0.998,"v":1.88},{"i":39,"x":0.833,"t":0.995,"v":1.88},{"i":39,"x":0.872,"t":0.998,"v":1.88},{"i":39,"x":0.889,"t":1,"v":1.88}]
},
"concat":[
{"width":380,"height":400,"title":{"text":"α=0.5,\u00a0\u00a0β=1.5","dx":36},"encoding":{"x":{"field":"sx","type":"quantitative","axis":null,"scale":{"domain":[52,432]}},"y":{"field":"sy","type":"quantitative","axis":null,"scale":{"domain":[460,60]}}},"layer":[
{"data":{"name":"grid"},"transform":[{"calculate":"245.7+251.3*datum.x-193.7*datum.t","as":"sx"},{"calculate":"438-73*datum.x-95*datum.t-34.5*(datum.u+3)","as":"sy"},{"calculate":"245.7+251.3*datum.x2-193.7*datum.t2","as":"sx2"},{"calculate":"438-73*datum.x2-95*datum.t2-34.5*(datum.u2+3)","as":"sy2"}],"mark":{"type":"rule","color":"#dfdfdf","strokeWidth":1},"encoding":{"x2":{"field":"sx2"},"y2":{"field":"sy2"}}},
{"data":{"name":"flat"},"transform":[{"calculate":"245.7+251.3*datum.x-193.7*datum.t","as":"sx"},{"calculate":"334.5-73*datum.x-95*datum.t","as":"sy"}],"mark":{"type":"line","color":"white","strokeWidth":6},"encoding":{"detail":{"field":"x"},"order":{"field":"t"}}},
{"data":{"values":[{"x":0.47,"t":1,"u":-2.7},{"x":0.485,"t":1,"u":-2.78},{"x":0.5,"t":1,"u":-2.85}]},"transform":[{"calculate":"245.7+251.3*datum.x-193.7*datum.t","as":"sx"},{"calculate":"438-73*datum.x-95*datum.t-34.5*(datum.u+3)","as":"sy"}],"mark":{"type":"line","color":"#30123b","strokeWidth":1.3},"encoding":{"order":{"field":"x"}}},
{"data":{"name":"flat"},"transform":[{"calculate":"245.7+251.3*datum.x-193.7*datum.t","as":"sx"},{"calculate":"334.5-73*datum.x-95*datum.t","as":"sy"}],"mark":{"type":"line","color":"#a4fc3c","strokeWidth":1.1},"encoding":{"detail":{"field":"x"},"order":{"field":"t"}}},
{"data":{"name":"flat"},"transform":[{"calculate":"245.7+251.3*datum.x-193.7*datum.t","as":"sx"},{"calculate":"334.5-73*datum.x-95*datum.t","as":"sy"}],"mark":{"type":"line","color":"#a4fc3c","strokeWidth":1.1},"encoding":{"detail":{"field":"t"},"order":{"field":"x"}}},
{"data":{"name":"m1"},"transform":[{"calculate":"245.7+251.3*datum.x-193.7*datum.t","as":"sx"},{"calculate":"438-73*datum.x-95*datum.t-34.5*((datum.u||0)+3)","as":"sy"},{"window":[{"op":"lead","field":"sx","as":"sx2"},{"op":"lead","field":"sy","as":"sy2"}],"groupby":["x"],"sort":[{"field":"t"}]},{"filter":"datum.sx2!=null"}],"mark":{"type":"rule","color":"white","strokeWidth":7},"encoding":{"x2":{"field":"sx2"},"y2":{"field":"sy2"}}},
{"data":{"name":"m1"},"transform":[{"calculate":"245.7+251.3*datum.x-193.7*datum.t","as":"sx"},{"calculate":"438-73*datum.x-95*datum.t-34.5*((datum.u||0)+3)","as":"sy"},{"window":[{"op":"lead","field":"sx","as":"sx2"},{"op":"lead","field":"sy","as":"sy2"},{"op":"lead","field":"u","as":"u2"},{"op":"lead","field":"x","as":"xn"}],"groupby":["t"],"sort":[{"field":"x"}]},{"filter":"datum.sx2!=null&&(datum.xn-datum.x<0.03||datum.xn-datum.x>0.9)"},{"calculate":"((datum.u||0)+(datum.u2||0))/2","as":"c"}],"mark":{"type":"rule","strokeWidth":1.2},"encoding":{"x2":{"field":"sx2"},"y2":{"field":"sy2"},"color":{"field":"c","type":"quantitative","legend":null,"scale":{"scheme":"turbo","domain":[-2.8,2.8]}}}},
{"data":{"name":"m1"},"transform":[{"calculate":"245.7+251.3*datum.x-193.7*datum.t","as":"sx"},{"calculate":"438-73*datum.x-95*datum.t-34.5*((datum.u||0)+3)","as":"sy"},{"window":[{"op":"lead","field":"sx","as":"sx2"},{"op":"lead","field":"sy","as":"sy2"},{"op":"lead","field":"u","as":"u2"}],"groupby":["x"],"sort":[{"field":"t"}]},{"filter":"datum.sx2!=null"},{"calculate":"((datum.u||0)+(datum.u2||0))/2","as":"c"}],"mark":{"type":"rule","strokeWidth":1.2},"encoding":{"x2":{"field":"sx2"},"y2":{"field":"sy2"},"color":{"field":"c","type":"quantitative","legend":null}}},
{"data":{"name":"m1"},"transform":[{"filter":"datum.r==1"},{"calculate":"245.7+251.3*datum.x-193.7*datum.t","as":"sx"},{"calculate":"438-73*datum.x-95*datum.t-34.5*((datum.u||0)+3)","as":"sy"}],"mark":{"type":"line","color":"#8cff4e","strokeWidth":1.1},"encoding":{"order":{"field":"x"}}},
{"data":{"name":"axes"},"transform":[{"calculate":"245.7+251.3*datum.x-193.7*datum.t","as":"sx"},{"calculate":"438-73*datum.x-95*datum.t-34.5*(datum.u+3)","as":"sy"},{"calculate":"245.7+251.3*datum.x2-193.7*datum.t2","as":"sx2"},{"calculate":"438-73*datum.x2-95*datum.t2-34.5*(datum.u2+3)","as":"sy2"}],"mark":{"type":"rule","color":"#404040","strokeWidth":1.2},"encoding":{"x2":{"field":"sx2"},"y2":{"field":"sy2"}}},
{"data":{"name":"labs"},"transform":[{"filter":"datum.a=='t'"},{"calculate":"245.7+251.3*datum.x-193.7*datum.t","as":"sx"},{"calculate":"438-73*datum.x-95*datum.t-34.5*(datum.u+3)","as":"sy"}],"mark":{"type":"text","align":"right","dx":-11.5,"dy":11,"fontSize":12.5,"color":"#4a4a4a"},"encoding":{"text":{"field":"s"}}},
{"data":{"name":"labs"},"transform":[{"filter":"datum.a=='x'"},{"calculate":"245.7+251.3*datum.x-193.7*datum.t","as":"sx"},{"calculate":"438-73*datum.x-95*datum.t-34.5*(datum.u+3)","as":"sy"}],"mark":{"type":"text","align":"left","dx":9,"dy":13,"fontSize":12.5,"color":"#4a4a4a"},"encoding":{"text":{"field":"s"}}},
{"data":{"name":"labs"},"transform":[{"filter":"datum.a=='u'"},{"calculate":"245.7+251.3*datum.x-193.7*datum.t","as":"sx"},{"calculate":"438-73*datum.x-95*datum.t-34.5*(datum.u+3)","as":"sy"}],"mark":{"type":"text","align":"right","dx":-11,"dy":-4.5,"fontSize":12.5,"color":"#4a4a4a"},"encoding":{"text":{"field":"s"}}},
{"data":{"values":[{"x":0,"t":0.5,"u":-3,"s":"t"}]},"transform":[{"calculate":"245.7+251.3*datum.x-193.7*datum.t","as":"sx"},{"calculate":"438-73*datum.x-95*datum.t-34.5*(datum.u+3)","as":"sy"}],"mark":{"type":"text","dx":3,"dy":55,"fontSize":13,"fontWeight":"bold","color":"#262626"},"encoding":{"text":{"field":"s"}}},
{"data":{"values":[{"x":0.5,"t":0,"u":-3,"s":"x"}]},"transform":[{"calculate":"245.7+251.3*datum.x-193.7*datum.t","as":"sx"},{"calculate":"438-73*datum.x-95*datum.t-34.5*(datum.u+3)","as":"sy"}],"mark":{"type":"text","dx":-18,"dy":50,"fontSize":13,"fontWeight":"bold","color":"#262626"},"encoding":{"text":{"field":"s"}}},
{"data":{"values":[{"x":0,"t":1,"u":0,"s":"u(x,t)"}]},"transform":[{"calculate":"245.7+251.3*datum.x-193.7*datum.t","as":"sx"},{"calculate":"438-73*datum.x-95*datum.t-34.5*(datum.u+3)","as":"sy"}],"mark":{"type":"text","angle":270,"dx":4,"dy":-35,"fontSize":13,"fontWeight":"bold","color":"#262626"},"encoding":{"text":{"field":"s"}}},
{"data":{"values":[{"x":0,"t":1,"u":3,"s":"×10⁴⁷"}]},"transform":[{"calculate":"245.7+251.3*datum.x-193.7*datum.t","as":"sx"},{"calculate":"438-73*datum.x-95*datum.t-34.5*(datum.u+3)","as":"sy"}],"mark":{"type":"text","dx":-20,"dy":-20,"fontSize":12,"color":"#4a4a4a"},"encoding":{"text":{"field":"s"}}}
]},
{"width":380,"height":400,"title":{"text":"α=0.8,\u00a0\u00a0β=1.8","dx":36},"encoding":{"x":{"field":"sx","type":"quantitative","axis":null,"scale":{"domain":[52,432]}},"y":{"field":"sy","type":"quantitative","axis":null,"scale":{"domain":[460,60]}}},"layer":[
{"data":{"name":"grid"},"transform":[{"calculate":"245.7+251.3*datum.x-193.7*datum.t","as":"sx"},{"calculate":"438-73*datum.x-95*datum.t-34.5*(datum.u+3)","as":"sy"},{"calculate":"245.7+251.3*datum.x2-193.7*datum.t2","as":"sx2"},{"calculate":"438-73*datum.x2-95*datum.t2-34.5*(datum.u2+3)","as":"sy2"}],"mark":{"type":"rule","color":"#dfdfdf","strokeWidth":1},"encoding":{"x2":{"field":"sx2"},"y2":{"field":"sy2"}}},
{"data":{"name":"flat"},"transform":[{"calculate":"245.7+251.3*datum.x-193.7*datum.t","as":"sx"},{"calculate":"334.5-73*datum.x-95*datum.t","as":"sy"}],"mark":{"type":"line","color":"white","strokeWidth":6},"encoding":{"detail":{"field":"x"},"order":{"field":"t"}}},
{"data":{"name":"flat"},"transform":[{"calculate":"245.7+251.3*datum.x-193.7*datum.t","as":"sx"},{"calculate":"334.5-73*datum.x-95*datum.t","as":"sy"}],"mark":{"type":"line","color":"#a4fc3c","strokeWidth":1.1},"encoding":{"detail":{"field":"x"},"order":{"field":"t"}}},
{"data":{"name":"flat"},"transform":[{"calculate":"245.7+251.3*datum.x-193.7*datum.t","as":"sx"},{"calculate":"334.5-73*datum.x-95*datum.t","as":"sy"}],"mark":{"type":"line","color":"#a4fc3c","strokeWidth":1.1},"encoding":{"detail":{"field":"t"},"order":{"field":"x"}}},
{"data":{"name":"m2"},"transform":[{"calculate":"245.7+251.3*datum.x-193.7*datum.t","as":"sx"},{"calculate":"438-73*datum.x-95*datum.t-34.5*((datum.u||0)+3)","as":"sy"},{"window":[{"op":"lead","field":"sx","as":"sx2"},{"op":"lead","field":"sy","as":"sy2"}],"groupby":["x"],"sort":[{"field":"t"}]},{"filter":"datum.sx2!=null"}],"mark":{"type":"rule","color":"white","strokeWidth":7},"encoding":{"x2":{"field":"sx2"},"y2":{"field":"sy2"}}},
{"data":{"name":"m2"},"transform":[{"calculate":"245.7+251.3*datum.x-193.7*datum.t","as":"sx"},{"calculate":"438-73*datum.x-95*datum.t-34.5*((datum.u||0)+3)","as":"sy"},{"window":[{"op":"lead","field":"sx","as":"sx2"},{"op":"lead","field":"sy","as":"sy2"},{"op":"lead","field":"u","as":"u2"},{"op":"lead","field":"x","as":"xn"}],"groupby":["t"],"sort":[{"field":"x"}]},{"filter":"datum.sx2!=null&&(datum.xn-datum.x<0.03||datum.xn-datum.x>0.9)"},{"calculate":"((datum.u||0)+(datum.u2||0))/2","as":"c"}],"mark":{"type":"rule","strokeWidth":1.2},"encoding":{"x2":{"field":"sx2"},"y2":{"field":"sy2"},"color":{"field":"c","type":"quantitative","legend":null,"scale":{"scheme":"turbo","domain":[-2.09,2.09]}}}},
{"data":{"name":"m2"},"transform":[{"calculate":"245.7+251.3*datum.x-193.7*datum.t","as":"sx"},{"calculate":"438-73*datum.x-95*datum.t-34.5*((datum.u||0)+3)","as":"sy"},{"window":[{"op":"lead","field":"sx","as":"sx2"},{"op":"lead","field":"sy","as":"sy2"},{"op":"lead","field":"u","as":"u2"}],"groupby":["x"],"sort":[{"field":"t"}]},{"filter":"datum.sx2!=null"},{"calculate":"((datum.u||0)+(datum.u2||0))/2","as":"c"}],"mark":{"type":"rule","strokeWidth":1.2},"encoding":{"x2":{"field":"sx2"},"y2":{"field":"sy2"},"color":{"field":"c","type":"quantitative","legend":null}}},
{"data":{"name":"m2"},"transform":[{"filter":"datum.r==1"},{"calculate":"245.7+251.3*datum.x-193.7*datum.t","as":"sx"},{"calculate":"438-73*datum.x-95*datum.t-34.5*((datum.u||0)+3)","as":"sy"}],"mark":{"type":"line","color":"#8cff4e","strokeWidth":1.1},"encoding":{"order":{"field":"x"}}},
{"data":{"name":"axes"},"transform":[{"calculate":"245.7+251.3*datum.x-193.7*datum.t","as":"sx"},{"calculate":"438-73*datum.x-95*datum.t-34.5*(datum.u+3)","as":"sy"},{"calculate":"245.7+251.3*datum.x2-193.7*datum.t2","as":"sx2"},{"calculate":"438-73*datum.x2-95*datum.t2-34.5*(datum.u2+3)","as":"sy2"}],"mark":{"type":"rule","color":"#404040","strokeWidth":1.2},"encoding":{"x2":{"field":"sx2"},"y2":{"field":"sy2"}}},
{"data":{"name":"labs"},"transform":[{"filter":"datum.a=='t'"},{"calculate":"245.7+251.3*datum.x-193.7*datum.t","as":"sx"},{"calculate":"438-73*datum.x-95*datum.t-34.5*(datum.u+3)","as":"sy"}],"mark":{"type":"text","align":"right","dx":-11.5,"dy":11,"fontSize":12.5,"color":"#4a4a4a"},"encoding":{"text":{"field":"s"}}},
{"data":{"name":"labs"},"transform":[{"filter":"datum.a=='x'"},{"calculate":"245.7+251.3*datum.x-193.7*datum.t","as":"sx"},{"calculate":"438-73*datum.x-95*datum.t-34.5*(datum.u+3)","as":"sy"}],"mark":{"type":"text","align":"left","dx":7.5,"dy":13,"fontSize":12.5,"color":"#4a4a4a"},"encoding":{"text":{"field":"s"}}},
{"data":{"name":"labs"},"transform":[{"filter":"datum.a=='u'"},{"calculate":"245.7+251.3*datum.x-193.7*datum.t","as":"sx"},{"calculate":"438-73*datum.x-95*datum.t-34.5*(datum.u+3)","as":"sy"}],"mark":{"type":"text","align":"right","dx":-11,"dy":-4.5,"fontSize":12.5,"color":"#4a4a4a"},"encoding":{"text":{"field":"s"}}},
{"data":{"values":[{"x":0,"t":0.5,"u":-3,"s":"t"}]},"transform":[{"calculate":"245.7+251.3*datum.x-193.7*datum.t","as":"sx"},{"calculate":"438-73*datum.x-95*datum.t-34.5*(datum.u+3)","as":"sy"}],"mark":{"type":"text","dx":3,"dy":55,"fontSize":13,"fontWeight":"bold","color":"#262626"},"encoding":{"text":{"field":"s"}}},
{"data":{"values":[{"x":0.5,"t":0,"u":-3,"s":"x"}]},"transform":[{"calculate":"245.7+251.3*datum.x-193.7*datum.t","as":"sx"},{"calculate":"438-73*datum.x-95*datum.t-34.5*(datum.u+3)","as":"sy"}],"mark":{"type":"text","dx":-18,"dy":50,"fontSize":13,"fontWeight":"bold","color":"#262626"},"encoding":{"text":{"field":"s"}}},
{"data":{"values":[{"x":0,"t":1,"u":0,"s":"u(x,t)"}]},"transform":[{"calculate":"245.7+251.3*datum.x-193.7*datum.t","as":"sx"},{"calculate":"438-73*datum.x-95*datum.t-34.5*(datum.u+3)","as":"sy"}],"mark":{"type":"text","angle":270,"dx":4,"dy":-35,"fontSize":13,"fontWeight":"bold","color":"#262626"},"encoding":{"text":{"field":"s"}}},
{"data":{"values":[{"x":0,"t":1,"u":3,"s":"×10³⁹"}]},"transform":[{"calculate":"245.7+251.3*datum.x-193.7*datum.t","as":"sx"},{"calculate":"438-73*datum.x-95*datum.t-34.5*(datum.u+3)","as":"sy"}],"mark":{"type":"text","dx":-20,"dy":-20,"fontSize":12,"color":"#4a4a4a"},"encoding":{"text":{"field":"s"}}}
]},
{"width":380,"height":374,"title":{"text":"Contour:\u00a0\u00a0α=0.5,\u00a0\u00a0β=1.5","offset":-15},"view":{"stroke":"#404040","strokeWidth":1.5},"encoding":{"x":{"field":"x","type":"quantitative","title":"x","scale":{"domain":[0,1],"nice":false},"axis":{"values":[0,0.2,0.4,0.6,0.8,1],"labelExpr":"datum.value","labelFlush":false,"labelPadding":13,"titlePadding":4}},"y":{"field":"t","type":"quantitative","title":"t","scale":{"domain":[0,1],"nice":false},"axis":{"values":[0,0.1,0.2,0.3,0.4,0.5,0.6,0.7,0.8,0.9,1],"labelExpr":"datum.value","labelFlush":false,"titlePadding":8}}},"layer":[
{"data":{"values":[{"x":0,"t":0,"x1":1,"t1":1}]},"mark":{"type":"rect","color":"#a8ff3c"},"encoding":{"x2":{"field":"x1"},"y2":{"field":"t1"}}},
{"data":{"name":"c1"},"mark":{"type":"area","interpolate":"monotone"},"encoding":{"y2":{"datum":1},"detail":{"field":"i"},"color":{"field":"v","type":"quantitative","scale":{"scheme":"turbo","domain":[-2.86,2.57]},"legend":{"orient":"right","offset":15,"gradientLength":374,"gradientThickness":22,"title":null,"values":[-2.5,-2,-1.5,-1,-0.5,0,0.5,1,1.5,2,2.5],"labelExpr":"datum.value","gradientStrokeColor":"#404040","gradientStrokeWidth":0.8}}}},
{"data":{"values":[{"x":1.14,"t":1.038,"s":"×10⁴⁷"}]},"mark":{"type":"text","fontSize":12,"color":"#4a4a4a"},"encoding":{"text":{"field":"s"}}}
]},
{"width":380,"height":374,"title":{"text":"Contour:\u00a0\u00a0α=0.8,\u00a0\u00a0β=1.8","offset":-15},"view":{"stroke":"#404040","strokeWidth":1.5},"encoding":{"x":{"field":"x","type":"quantitative","title":"x","scale":{"domain":[0,1],"nice":false},"axis":{"values":[0,0.2,0.4,0.6,0.8,1],"labelExpr":"datum.value","labelFlush":false,"labelPadding":13,"titlePadding":4}},"y":{"field":"t","type":"quantitative","title":"t","scale":{"domain":[0,1],"nice":false},"axis":{"values":[0,0.1,0.2,0.3,0.4,0.5,0.6,0.7,0.8,0.9,1],"labelExpr":"datum.value","labelFlush":false,"titlePadding":8}}},"layer":[
{"data":{"values":[{"x":0,"t":0,"x1":1,"t1":1}]},"mark":{"type":"rect","color":"#a8ff3c"},"encoding":{"x2":{"field":"x1"},"y2":{"field":"t1"}}},
{"data":{"name":"c2"},"mark":{"type":"area","interpolate":"monotone"},"encoding":{"y2":{"datum":1},"detail":{"field":"i"},"color":{"field":"v","type":"quantitative","scale":{"scheme":"turbo","domain":[-2.1,1.88]},"legend":{"orient":"right","offset":15,"gradientLength":374,"gradientThickness":22,"title":null,"values":[-2,-1.5,-1,-0.5,0,0.5,1,1.5],"labelExpr":"datum.value","gradientStrokeColor":"#404040","gradientStrokeWidth":0.8}}}},
{"data":{"values":[{"x":1.14,"t":1.038,"s":"×10³⁹"}]},"mark":{"type":"text","fontSize":12,"color":"#4a4a4a"},"encoding":{"text":{"field":"s"}}}
]}
],"columns":2,"spacing":{"row":124,"column":204},"bounds":"flush","resolve":{"scale":{"color":"independent"}}}
